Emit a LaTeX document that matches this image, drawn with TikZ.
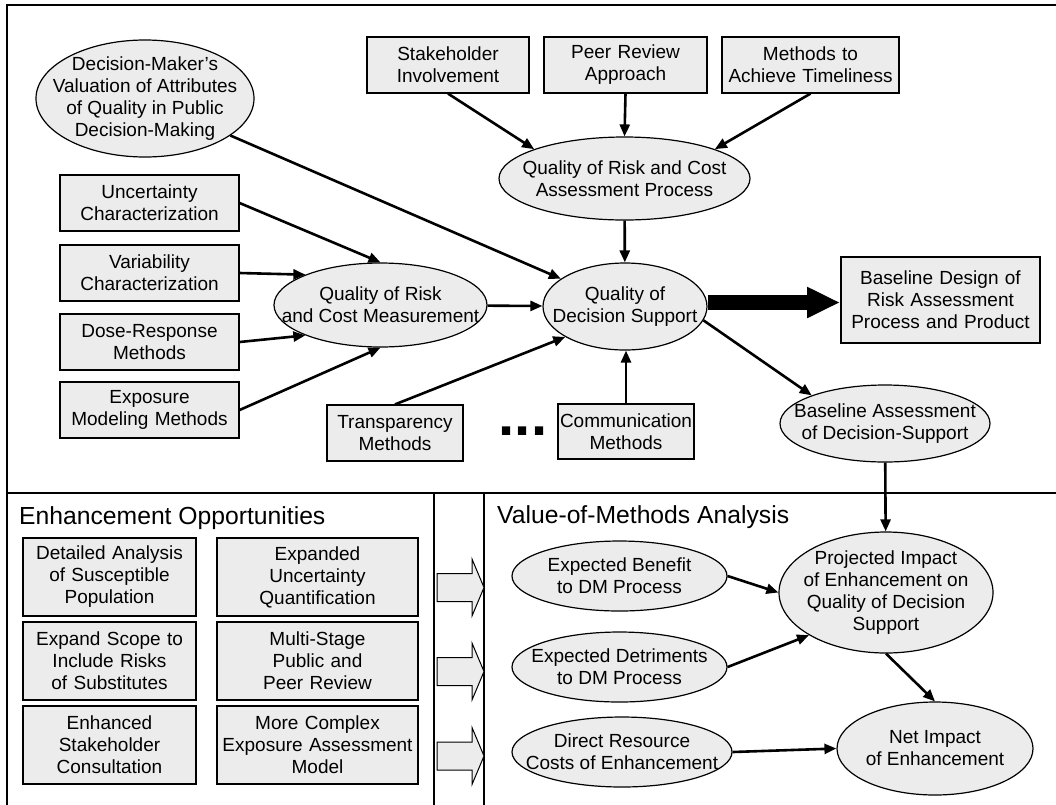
\documentclass[tikz,border=0pt]{standalone}
\usepackage{fontspec}
\setmainfont{Liberation Sans}
\usetikzlibrary{shapes.geometric,arrows.meta}
\definecolor{nodefill}{RGB}{236,236,236}
\newcommand{\nodefont}{\fontsize{19}{22}\selectfont}
\newcommand{\headfont}{\fontsize{24.7}{28}\selectfont}
\newcommand{\dotsfont}{\fontsize{58}{58}\selectfont\bfseries}
\begin{document}
\begin{tikzpicture}[x=1pt,y=-1pt,
  every node/.style={inner sep=0pt},
  bx/.style 2 args={draw, line width=1.2pt, fill=nodefill, rectangle, text width=#1, minimum height=#2, align=center, font=\nodefont},
  el/.style 2 args={draw, line width=1.2pt, fill=nodefill, ellipse, minimum width=#1, minimum height=#2},
  eltext/.style={font=\nodefont, align=center},
  arr/.style={line width=2.6pt, -{Triangle[length=12pt,width=10pt]}},
  bigarr/.style={line width=15pt, -{Triangle[length=33pt,width=29pt]}},
  frame/.style={line width=1.8pt},
  divline/.style={line width=1.2pt},
  blockarrow/.style={draw, line width=1pt, fill=nodefill},
  heading/.style={font=\headfont, anchor=base west}
]
\useasboundingbox (0,0) rectangle (1056,804);

% frame
\draw[frame] (7,807) -- (7,5) -- (1058,5);
\draw[frame] (7,493) -- (1058,493);
\draw[divline] (434,493) -- (434,807);
\draw[divline] (484,493) -- (484,807);

% top section
\node[el={218}{117}, label={[eltext]center:{Decision-Maker’s\\Valuation of Attributes\\of Quality in Public\\Decision-Making}}] (dm) at (145,98.5) {};
\node[bx={179}{56}] (unc) at (149.5,203) {Uncertainty\\Characterization};
\node[bx={179}{56}] (var) at (149.5,273) {Variability\\Characterization};
\node[bx={179}{56}] (dose) at (149.5,342) {Dose-Response\\Methods};
\node[bx={179}{56}] (expo) at (149.5,410) {Exposure\\Modeling Methods};
\node[bx={162}{56}] (stake) at (448,65) {Stakeholder\\Involvement};
\node[bx={163}{56}] (peer) at (625.5,65) {Peer Review\\Approach};
\node[bx={177}{56}] (timely) at (810.5,65) {Methods to\\Achieve Timeliness};
\node[el={251}{83}, label={[eltext]center:{Quality of Risk and Cost\\Assessment Process}}] (qrcap) at (624.5,178.5) {};
\node[el={213}{84}, label={[eltext]center:{Quality of Risk\\and Cost Measurement}}] (qrcm) at (380.5,305) {};
\node[el={164}{87}, label={[eltext]center:{Quality of\\Decision Support}}] (qds) at (625,306.5) {};
\node[bx={199}{86}] (bdesign) at (940.5,300) {Baseline Design of\\Risk Assessment\\Process and Product};
\node[el={210}{77}, label={[eltext]center:{Baseline Assessment\\of Decision-Support}}] (bassess) at (885,423.5) {};
\node[bx={136}{56}] (transp) at (395,433) {Transparency\\Methods};
\node[bx={136}{55}] (comm) at (626,431.5) {Communication\\Methods};
\node[font=\dotsfont, anchor=base] (dots) at (523,435) {...};
\coordinate (bigtip) at (840,302.5);

% top connectors
\draw[arr] (dm) -- (qds);
\draw[arr] (unc.east) -- (qrcm.north);
\draw[arr] (var.east) -- (qrcm.158);
\draw[arr] (dose.east) -- (qrcm.-158);
\draw[arr] (expo.east) -- (qrcm.south);
\draw[arr] (qrcm) -- (qds);
\draw[arr] (stake.south) -- (qrcap.162);
\draw[arr] (peer.south) -- (qrcap.north);
\draw[arr] (timely.south) -- (qrcap.18);
\draw[arr] (qrcap) -- (qds);
\draw[arr] (transp.north) -- (qds.-153);
\draw[arr] (comm.north) -- (qds.south -| comm.north);
\draw[arr] (qds.-10) -- (bassess.159);
\draw[bigarr] (qds.east |- bigtip) -- (bigtip);

% lower left panel
\node[heading] (hleft) at (19,524) {Enhancement Opportunities};
\node[bx={173}{78}] (d1) at (109.5,577) {Detailed Analysis\\of Susceptible\\Population};
\node[bx={173}{78}] (d2) at (109.5,661) {Expand Scope to\\Include Risks\\of Substitutes};
\node[bx={173}{78}] (d3) at (109.5,745) {Enhanced\\Stakeholder\\Consultation};
\node[bx={201}{78}] (e1) at (317.5,577) {Expanded\\Uncertainty\\Quantification};
\node[bx={201}{78}] (e2) at (317.5,661) {Multi-Stage\\Public and\\Peer Review};
\node[bx={201}{78}] (e3) at (317.5,745) {More Complex\\Exposure Assessment\\Model};

% block arrows
\foreach \c in {587.5,671.5,756}{
  \draw[blockarrow] (437,\c-14) -- (472,\c-14) -- (472,\c-28.5) -- (484,\c) -- (472,\c+28.5) -- (472,\c+14) -- (437,\c+14) -- cycle;
}

% lower right panel
\node[heading] (hright) at (497,523) {Value-of-Methods Analysis};
\node[el={215}{70}, label={[eltext]center:{Expected Benefit\\to DM Process}}] (eb) at (619.5,576) {};
\node[el={215}{70}, label={[eltext]center:{Expected Detriments\\to DM Process}}] (ed) at (619.5,667) {};
\node[el={220}{70}, label={[eltext]center:{Direct Resource\\Costs of Enhancement}}] (dr) at (622,752) {};
\node[el={214}{121}, label={[eltext]center:{Projected Impact\\of Enhancement on\\Quality of Decision\\Support}}] (pi) at (886,592.5) {};
\node[el={196}{93}, label={[eltext]center:{Net Impact\\of Enhancement}}] (ni) at (935,748.5) {};

\draw[arr] (bassess) -- (pi);
\draw[arr] (eb.east) -- (pi.west);
\draw[arr] (ed.east) -- (pi.-151);
\draw[arr] (pi.south) -- (ni.north);
\draw[arr] (dr.east) -- (ni.west);
\end{tikzpicture}
\end{document}
